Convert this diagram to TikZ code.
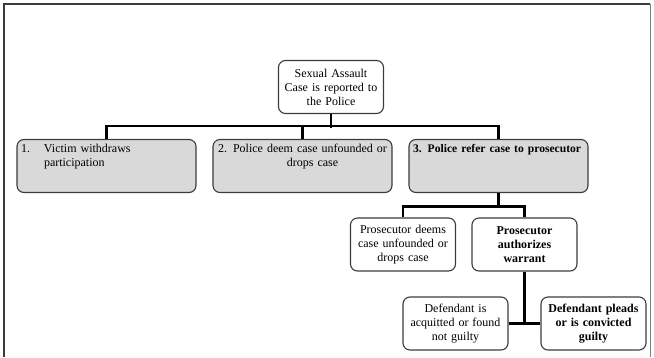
\documentclass[tikz,border=0pt]{standalone}
\usepackage{fontspec}
\setmainfont{Liberation Serif}
\usepackage{xcolor}
\usepackage{tikz}
\definecolor{boxgray}{RGB}{217,217,217}
\definecolor{edgegray}{RGB}{60,60,60}

\begin{document}
\begin{tikzpicture}[x=1pt, y=-1pt, font=\fontsize{12}{14}\selectfont]
\tikzstyle{step box}=[draw=edgegray, line width=1.1pt, rounded corners=7pt, inner sep=4pt, align=center]
\tikzstyle{outcome}=[step box, text width=97pt, minimum width=105pt, minimum height=53pt]
\tikzstyle{track}=[step box, fill=boxgray, align=left, text width=171pt, minimum width=179pt, text height=9pt, text depth=36pt]
\tikzstyle{bus}=[line width=2.8pt, black]

\useasboundingbox (0,0) rectangle (654,357);

% frame
\draw[edgegray, line width=1.4pt] (4,357) -- (4,4) -- (650,4);
\draw[gray, line width=0.8pt] (650,4) -- (650,357);

\node[outcome] (report) at (331,87) {Sexual Assault\\Case is reported to\\the Police};

\node[track] (victim) at (106.5,166) {1.\hspace{14pt}Victim withdraws\\\hspace*{23pt}participation};
\node[track, align=center] (deem) at (302.5,166) {2. Police deem case unfounded or\\\hspace*{20pt}drops case};
\node[track] (refer) at (498.5,166) {\fontsize{11.6}{14}\selectfont\mbox{\textbf{3. Police refer case to prosecutor}}};

\node[outcome] (prosdrop) at (403,244.5) {Prosecutor deems\\case unfounded or\\drops case};
\node[outcome] (warrant) at (524.5,244.5) {\textbf{Prosecutor}\\\textbf{authorizes}\\\textbf{warrant}};

\node[outcome] (acquit) at (455.5,323.5) {Defendant is\\acquitted or found\\not guilty};
\node[outcome] (pleads) at (593.5,323.5) {\textbf{Defendant pleads}\\\textbf{or is convicted}\\\textbf{guilty}};

\draw[bus] (report.south) -- ++(0,-14pt);
\draw[bus] (victim.north) -- ++(0,13pt) -| (refer.north);
\draw[bus] (deem.north) -- ++(0,13pt);

\draw[bus] (refer.south) -- ++(0,-15pt);
\draw[bus] (prosdrop.north) -- ++(0,11pt) -| (warrant.north);

\draw[bus] (acquit.east) -- (pleads.west);
\draw[bus] (warrant.south) -- (warrant.south |- acquit.east);

\end{tikzpicture}
\end{document}
